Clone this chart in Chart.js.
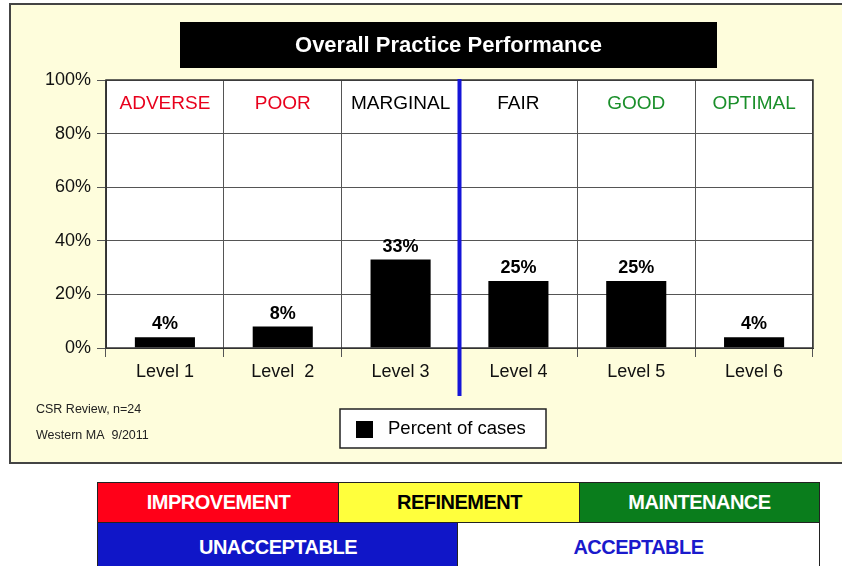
<!DOCTYPE html>
<html>
<head>
<meta charset="utf-8">
<script src="https://cdn.jsdelivr.net/npm/chart.js@4/dist/chart.umd.min.js"></script>
<style>
body { margin: 0; background: #fff; font-family: "Liberation Sans", Arial, sans-serif; }
#wrap { position: relative; width: 842px; height: 566px; overflow: hidden; }
#chart { position: absolute; left: 0; top: 0; }
.box { position: absolute; box-sizing: border-box; border: 1.5px solid #222; display: flex; align-items: center; justify-content: center; font-weight: bold; font-size: 20px; letter-spacing: -0.5px; }
</style>
</head>
<body>
<div id="wrap">
  <canvas id="chart" width="842" height="566"></canvas>
  <div class="box" style="left:97px;top:482px;width:243px;height:41px;background:#ff0018;color:#fff">IMPROVEMENT</div>
  <div class="box" style="left:338px;top:482px;width:243px;height:41px;background:#ffff3c;color:#000">REFINEMENT</div>
  <div class="box" style="left:579px;top:482px;width:241px;height:41px;background:#0a7d1c;color:#fff">MAINTENANCE</div>
  <div class="box" style="left:97px;top:522px;width:362px;height:50px;background:#1016c8;color:#fff">UNACCEPTABLE</div>
  <div class="box" style="left:457px;top:522px;width:363px;height:50px;background:#fff;color:#1a1acc">ACCEPTABLE</div>
</div>
<script>
var levels = ['Level 1', 'Level  2', 'Level 3', 'Level 4', 'Level 5', 'Level 6']
var percents = [4, 8, 33, 25, 25, 4]
var ratings = ['ADVERSE', 'POOR', 'MARGINAL', 'FAIR', 'GOOD', 'OPTIMAL']
var ratingColors = ['#e8001c', '#e8001c', '#000000', '#000000', '#1a8f2a', '#1a8f2a']
var seriesName = 'Percent of cases'
var chartTitle = 'Overall Practice Performance'
var notes = ['CSR Review, n=24', 'Western MA  9/2011']

var FONT = '"Liberation Sans", Arial, sans-serif'

// frame, title box, white plot background
var backPlugin = {
    id: 'back',
    beforeDraw: function (chart) {
        var ctx = chart.ctx, a = chart.chartArea
        ctx.save()
        ctx.fillStyle = '#fefddc'
        ctx.fillRect(10, 4, 850, 459)
        ctx.strokeStyle = '#444'
        ctx.lineWidth = 2
        ctx.strokeRect(10, 4, 850, 459)
        ctx.fillStyle = '#fff'
        ctx.fillRect(a.left, a.top, a.right - a.left, a.bottom - a.top)
        ctx.fillStyle = '#000'
        ctx.fillRect(180, 22, 537, 46)
        ctx.fillStyle = '#fff'
        ctx.font = 'bold 22px ' + FONT
        ctx.textAlign = 'center'
        ctx.textBaseline = 'middle'
        ctx.fillText(chartTitle, 448.5, 46)
        ctx.restore()
    }
}

// labels, ratings, blue divider, legend, notes
var frontPlugin = {
    id: 'front',
    afterDraw: function (chart) {
        var ctx = chart.ctx, a = chart.chartArea, x = chart.scales.x
        ctx.save()
        ctx.strokeStyle = '#333'
        ctx.lineWidth = 1.5
        ctx.strokeRect(a.left, a.top, a.right - a.left, a.bottom - a.top)

        ctx.textAlign = 'center'
        ctx.font = '19px ' + FONT
        ctx.textBaseline = 'middle'
        ratings.forEach(function (r, i) {
            ctx.fillStyle = ratingColors[i]
            ctx.fillText(r, x.getPixelForValue(i), a.top + 24)
        })

        ctx.font = 'bold 18px ' + FONT
        ctx.fillStyle = '#000'
        ctx.textBaseline = 'alphabetic'
        chart.getDatasetMeta(0).data.forEach(function (bar, i) {
            ctx.fillText(percents[i] + '%', bar.x, bar.y - 8)
        })

        var bx = (x.getPixelForValue(2) + x.getPixelForValue(3)) / 2
        ctx.strokeStyle = '#1515d8'
        ctx.lineWidth = 4
        ctx.beginPath()
        ctx.moveTo(bx, a.top - 1)
        ctx.lineTo(bx, 396)
        ctx.stroke()

        ctx.fillStyle = '#fff'
        ctx.fillRect(340, 409, 206, 39)
        ctx.strokeStyle = '#222'
        ctx.lineWidth = 1.5
        ctx.strokeRect(340, 409, 206, 39)
        ctx.fillStyle = '#000'
        ctx.fillRect(356, 421, 17, 17)
        ctx.textAlign = 'left'
        ctx.textBaseline = 'middle'
        ctx.font = '18.5px ' + FONT
        ctx.fillText(seriesName, 388, 429)

        ctx.font = '12.5px ' + FONT
        ctx.fillStyle = '#222'
        ctx.fillText(notes[0], 36, 410)
        ctx.fillText(notes[1], 36, 436)
        ctx.restore()
    }
}

new Chart(document.getElementById('chart'), {
    type: 'bar',
    data: {
        labels: levels,
        datasets: [{
            label: seriesName,
            data: percents,
            backgroundColor: '#000',
            barPercentage: 0.51,
            categoryPercentage: 1
        }]
    },
    options: {
        responsive: false,
        animation: false,
        layout: { padding: { left: 0, top: 80, right: 29, bottom: 178 } },
        plugins: { legend: { display: false }, title: { display: false }, tooltip: { enabled: false } },
        scales: {
            x: {
                grid: { color: '#555', tickLength: 9, offset: true },
                border: { color: '#333' },
                ticks: { color: '#111', font: { size: 18, family: FONT }, padding: 4 },
                afterFit: function (s) { s.height = 40 }
            },
            y: {
                min: 0,
                max: 100,
                grid: { color: '#555', tickLength: 9 },
                border: { color: '#333' },
                ticks: { stepSize: 20, color: '#111', font: { size: 18, family: FONT }, padding: 6, callback: function (v) { return v + '%' } },
                afterFit: function (s) { s.width = 106 }
            }
        }
    },
    plugins: [backPlugin, frontPlugin]
});
</script>
</body>
</html>
